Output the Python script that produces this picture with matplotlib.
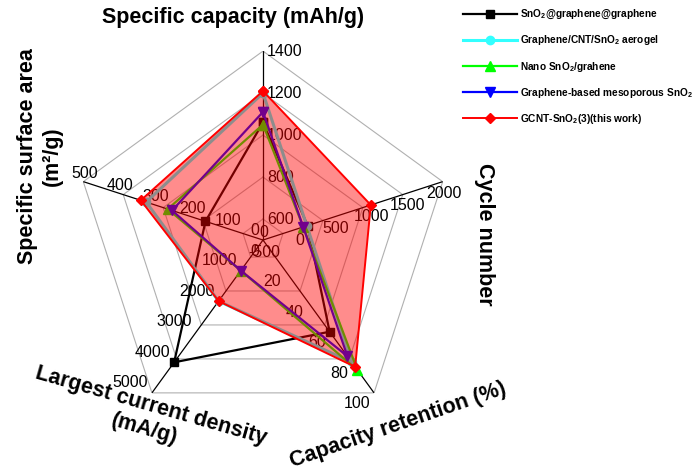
import numpy as np
import matplotlib
matplotlib.use("Agg")
import matplotlib.pyplot as plt
from matplotlib import font_manager as fm

plt.rcParams['font.family'] = ['Liberation Sans', 'DejaVu Sans']
plt.rcParams['mathtext.fontset'] = 'custom'
plt.rcParams['mathtext.rm'] = 'Liberation Sans'
plt.rcParams['mathtext.bf'] = 'Liberation Sans:bold'
plt.rcParams['mathtext.default'] = 'bf'

# five radar axes, clockwise from the top
axis_lo = [500, -500, 0, 0, 0]
axis_hi = [1400, 2000, 100, 5000, 500]
capacity_ticks = [600, 800, 1000, 1200, 1400]
cycle_ticks = [-500, 0, 500, 1000, 1500, 2000]
retention_ticks = [0, 20, 40, 60, 80, 100]
current_ticks = [0, 1000, 2000, 3000, 4000, 5000]
surface_ticks = [0, 100, 200, 300, 400, 500]
grid_levels = [1/9, 3/9, 5/9, 7/9, 1.0]

series_names = [
    "SnO$_2$@graphene@graphene",
    "Graphene/CNT/SnO$_2$ aerogel",
    "Nano SnO$_2$/grahene",
    "Graphene-based mesoporous SnO$_2$",
    "GCNT-SnO$_2$(3)(this work)",
]
capacity = [1060, 1200, 1050, 1110, 1210]
cycles = [120, 110, 60, 60, 1000]
retention = [60, 80, 85, 76, 83]
current = [4000, 2000, 1000, 1000, 2000]
surface = [160, 325, 265, 253, 340]

colors = ['black', '#33ffff', '#00ff00', '#0000ff', '#ff0000']
markers = ['s', 'o', '^', 'v', 'D']

theta = np.deg2rad([0, 72, 144, 216, 288])


def norm(vals, k):
    return (np.asarray(vals, float) - axis_lo[k]) / (axis_hi[k] - axis_lo[k])


# legend text in the original is narrow; use a narrow face if there is one
try:
    fm.findfont(fm.FontProperties(family='Liberation Sans Narrow', weight='bold'),
                fallback_to_default=False)
    legend_font = dict(family='Liberation Sans Narrow', weight='bold', size=9.5)
except ValueError:
    legend_font = dict(family='Liberation Sans', weight='bold', size=7.3)

fig = plt.figure(figsize=(7, 4.7), dpi=100)
ax = fig.add_axes([0.1057, 0.0873, 0.54, 0.804], projection='polar')
ax.set_theta_offset(np.pi / 2)
ax.set_theta_direction(-1)
ax.set_ylim(0, 1)
ax.grid(False)
ax.set_xticks([])
ax.set_yticks([])
ax.spines['polar'].set_visible(False)
ax.patch.set_alpha(0)

th_closed = np.append(theta, theta[0])
for lv in grid_levels:
    ax.plot(th_closed, [lv] * 6, color='#b0b0b0', lw=0.8, zorder=0.5)
for t in theta:
    ax.plot([t, t], [0, 1], color='black', lw=0.9, zorder=1)

# tick labels for each axis
tick_sets = [capacity_ticks, cycle_ticks, retention_ticks, current_ticks, surface_ticks]
label_fmt = [
    dict(ha='left', va='center', off=(4, 0)),
    dict(ha='center', va='center', off=(1, -12)),
    dict(ha='right', va='center', off=(-4, -11)),
    dict(ha='right', va='center', off=(-4, 10)),
    dict(ha='center', va='center', off=(1, 8)),
]
for k, ticks in enumerate(tick_sets):
    f = label_fmt[k]
    for v, r in zip(ticks, norm(ticks, k)):
        ax.annotate(str(v), xy=(theta[k], r), xytext=f['off'],
                    textcoords='offset pixels', ha=f['ha'], va=f['va'],
                    fontsize=11.5, color='black', zorder=1,
                    annotation_clip=False)

# series
values = np.array([capacity, cycles, retention, current, surface])
lws = [1.6, 2.2, 1.6, 1.6, 1.4]
msz = [6, 6, 7, 7, 5]
for i, name in enumerate(series_names):
    r = np.array([norm(values[k, i], k) for k in range(5)])
    r = np.append(r, r[0])
    if i == 4:
        ax.fill(th_closed, r, color='#ff0000', alpha=0.45, lw=0, zorder=6)
        z = 7
    else:
        z = 2 + i * 0.1
    ax.plot(th_closed, r, color=colors[i], lw=lws[i], marker=markers[i],
            ms=msz[i], label=name, zorder=z, clip_on=False)

fig.legend(loc='upper left', bbox_to_anchor=(458 / 700, 1 - 3 / 470),
           frameon=False, handlelength=5.3, handletextpad=0.35,
           labelspacing=1.2, borderpad=0, prop=legend_font)

big = dict(fontsize=15.5, fontweight='bold')
fig.text(233 / 700, 1 - 17 / 470, "Specific capacity (mAh/g)", ha='center', va='center', **big)
fig.text(484 / 700, 1 - 234 / 470, "Cycle number", rotation=-90, ha='center', va='center', **big)
fig.text(398 / 700, 1 - 425 / 470, "Capacity retention (%)", rotation=19,
         rotation_mode='anchor', ha='center', va='center', **big)
fig.text(148 / 700, 1 - 418 / 470, "Largest current density\n(mA/g)", rotation=-16,
         rotation_mode='anchor', ha='center', va='center', multialignment='center', **big)
fig.text(40 / 700, 1 - 156 / 470, "Specific surface area\n(m\u00b2/g)", rotation=90,
         rotation_mode='anchor', ha='center', va='center', multialignment='center', **big)

fig.savefig('out.png', dpi=100)
